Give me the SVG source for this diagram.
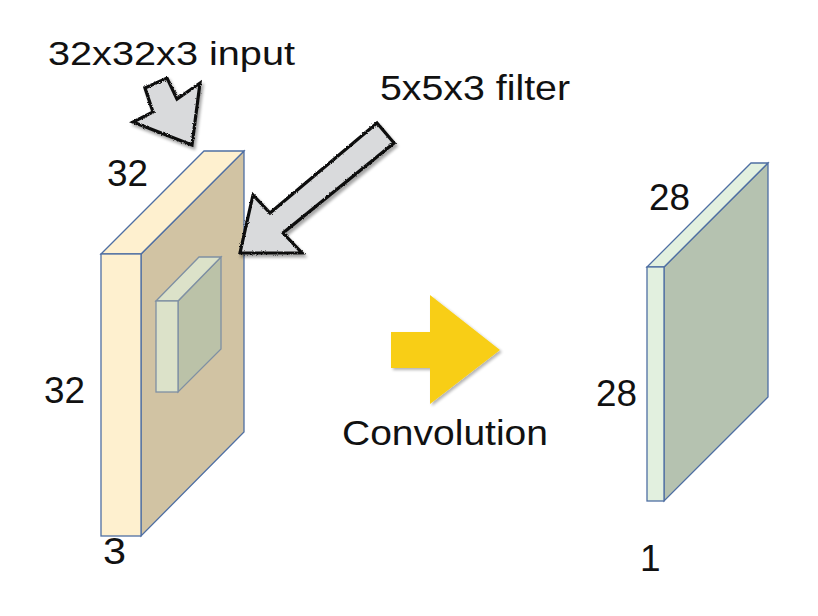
<svg xmlns="http://www.w3.org/2000/svg" width="818" height="616" viewBox="0 0 818 616">
<defs>
<style>
.lbl{font-family:"Liberation Sans",Arial,sans-serif;fill:#111;}
.t{font-size:33px;}
.t2{font-size:35px;}
.n{font-size:37px;}
.blk{stroke:#4f6fa3;stroke-width:1.3;stroke-linejoin:miter;}
.flt{stroke:#7f90a3;stroke-width:1.3;}
.garrow{fill:#d9dadc;stroke:#111;stroke-width:3.2;stroke-linejoin:miter;}
</style>
<filter id="rough" x="-10%" y="-10%" width="130%" height="130%">
<feTurbulence type="fractalNoise" baseFrequency="0.9" numOctaves="2" seed="3" result="noise"/>
<feDisplacementMap in="SourceGraphic" in2="noise" scale="2.5" xChannelSelector="R" yChannelSelector="G" result="d"/>
<feGaussianBlur in="SourceAlpha" stdDeviation="1.5" result="b"/>
<feOffset in="b" dx="2" dy="3" result="o"/>
<feComponentTransfer in="o" result="s"><feFuncA type="linear" slope="0.35"/></feComponentTransfer>
<feMerge><feMergeNode in="s"/><feMergeNode in="d"/></feMerge>
</filter>
<filter id="shadow" x="-10%" y="-10%" width="130%" height="130%">
<feGaussianBlur in="SourceAlpha" stdDeviation="1.5"/>
<feOffset dx="1.5" dy="2" result="o"/>
<feComponentTransfer in="o" result="s"><feFuncA type="linear" slope="0.3"/></feComponentTransfer>
<feMerge><feMergeNode in="s"/><feMergeNode in="SourceGraphic"/></feMerge>
</filter>
</defs>
<rect width="818" height="616" fill="#ffffff"/>

<g id="input-volume">
<polygon class="blk" fill="#d1c3a3" points="141,254 244,151 244,432 141,536"/>
<polygon class="blk" fill="#fef0cf" points="101,254 204,151 244,151 141,254"/>
<rect class="blk" fill="#fef0cf" x="101" y="254" width="40" height="282"/>
</g>

<g id="filter-volume">
<polygon class="flt" fill="#bbc2a8" points="178,301 221,257 221,349 178,392"/>
<polygon class="flt" fill="#dce2c9" points="156,301 199,257 221,257 178,301"/>
<rect class="flt" fill="#dce2c9" x="156" y="301" width="22" height="91"/>
</g>

<g id="output-volume">
<polygon class="blk" fill="#b5c2b0" points="664,267 768,163 768,397 664,501"/>
<polygon class="blk" fill="#e2f0df" points="647,267 751,163 768,163 664,267"/>
<rect class="blk" fill="#e2f0df" x="647" y="267" width="17" height="234"/>
</g>

<g id="connectors">
<polygon class="garrow" filter="url(#rough)" points="145,88 167,78 177,99 200,83 192,145 133,122 153,112"/>
<polygon class="garrow" filter="url(#rough)" points="377,123 394,143 283,233 302,253 240,253 253,195 270,213"/>
<polygon fill="#f8ce15" filter="url(#shadow)" points="391,332 430,332 430,295 500,350 430,404 430,368 391,368"/>
</g>

<g id="labels">
<text class="lbl t" x="48" y="65" textLength="247" lengthAdjust="spacingAndGlyphs">32x32x3 input</text>
<text class="lbl t2" x="380" y="100" textLength="190" lengthAdjust="spacingAndGlyphs">5x5x3 filter</text>
<text class="lbl t2" x="342" y="445" textLength="206" lengthAdjust="spacingAndGlyphs">Convolution</text>
<text class="lbl n" x="107" y="186" textLength="41" lengthAdjust="spacingAndGlyphs">32</text>
<text class="lbl n" x="44" y="403" textLength="41" lengthAdjust="spacingAndGlyphs">32</text>
<text class="lbl n" x="103" y="564" textLength="23" lengthAdjust="spacingAndGlyphs">3</text>
<text class="lbl n" x="649" y="210" textLength="41" lengthAdjust="spacingAndGlyphs">28</text>
<text class="lbl n" x="596" y="406" textLength="41" lengthAdjust="spacingAndGlyphs">28</text>
<text class="lbl n" x="640" y="571">1</text>
</g>
</svg>
